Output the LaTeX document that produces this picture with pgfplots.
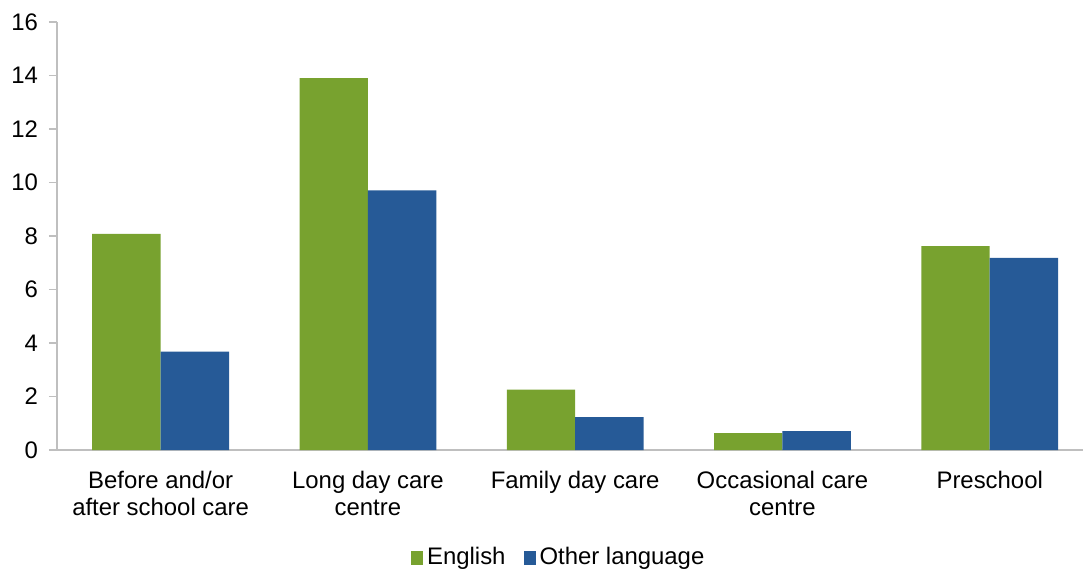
\documentclass[border=0pt]{standalone}
\usepackage{fontspec}
\setmainfont{Liberation Sans}
\usepackage{pgfplots}
\pgfplotsset{compat=1.18}

\definecolor{engl}{HTML}{78A22F}
\definecolor{other}{HTML}{265A97}
\definecolor{axgray}{HTML}{BFBFBF}

\begin{document}
\begin{tikzpicture}
\begin{axis}[
    name=main,
    scale only axis,
    width=513bp, height=214bp,
    ybar=0pt, bar width=0.33,
    ymin=0, ymax=16, ytick={0,2,...,16},
    xmin=-0.5, xmax=4.45,
    xtick={0,1,2,3,4},
    xticklabels={Before and/or\\after school care, Long day care\\centre, Family day care, Occasional care\\centre, Preschool},
    x tick label style={align=center, font=\fontsize{12}{13.5}\selectfont, yshift=-3bp},
    y tick label style={font=\fontsize{12}{13}\selectfont, xshift=-2bp},
    /pgf/number format/assume math mode=true,
    axis x line*=bottom, axis y line*=left,
    axis line style={axgray, line width=0.8pt, -},
    xtick style={draw=none},
    ytick style={axgray, line width=0.8pt},
    tick align=outside, major tick length=4bp,
    legend style={at={(0.49,-0.25)}, anchor=center, draw=none, legend columns=2,
        font=\fontsize{12}{13}\selectfont, inner sep=0pt,
        /tikz/every even column/.append style={column sep=7bp}},
    legend image code/.code={\fill[#1] (2bp,-4bp) rectangle (8bp,3bp);},
    legend cell align=left,
]
\addplot[draw=none, fill=engl] coordinates {(0,8.08) (1,13.9) (2,2.26) (3,0.63) (4,7.62)};
\addplot[draw=none, fill=other] coordinates {(0,3.68) (1,9.71) (2,1.23) (3,0.71) (4,7.18)};
\legend{English, Other language}
\end{axis}
\pgfresetboundingbox
\useasboundingbox ([xshift=-28.5bp, yshift=-62bp]main.south west) rectangle ([yshift=11bp]main.north east);
\end{tikzpicture}
\end{document}
